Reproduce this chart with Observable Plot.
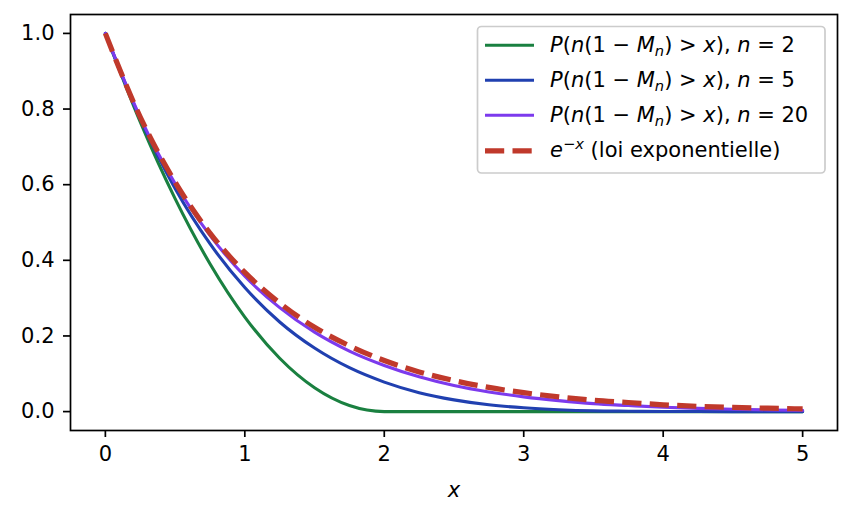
<!DOCTYPE html>
<html>
<head>
<meta charset="utf-8">
<script src="https://cdn.jsdelivr.net/npm/d3@7"></script>
<script src="https://cdn.jsdelivr.net/npm/@observablehq/plot@0.6"></script>
<style>
  html, body { margin: 0; padding: 0; background: white; overflow: hidden; }
  #chart svg { display: block; }
</style>
</head>
<body>
<div id="chart"></div>
<script>
// x sample positions
const xs = [0, 0.25, 0.5, 0.75, 1, 1.25, 1.5, 1.75, 2, 2.25, 2.5, 2.75, 3, 3.25, 3.5, 3.75, 4, 4.25, 4.5, 4.75, 5];
// P(n(1-Mn) > x), n = 2
const n2 = [1, 0.766, 0.563, 0.391, 0.250, 0.141, 0.063, 0.016, 0, 0, 0, 0, 0, 0, 0, 0, 0, 0, 0, 0, 0];
// n = 5
const n5 = [1, 0.774, 0.590, 0.444, 0.328, 0.237, 0.168, 0.116, 0.078, 0.050, 0.031, 0.018, 0.010, 0.005, 0.002, 0.001, 0.0003, 0.0001, 0, 0, 0];
// n = 20
const n20 = [1, 0.778, 0.603, 0.466, 0.358, 0.275, 0.210, 0.160, 0.122, 0.092, 0.069, 0.052, 0.039, 0.029, 0.021, 0.016, 0.0115, 0.0084, 0.0061, 0.0044, 0.0032];
// e^{-x}
const expo = [1, 0.779, 0.607, 0.472, 0.368, 0.287, 0.223, 0.174, 0.135, 0.105, 0.082, 0.064, 0.050, 0.039, 0.030, 0.024, 0.018, 0.014, 0.011, 0.009, 0.007];

const seriesNames = ["n=2", "n=5", "n=20", "exp"];
const seriesColors = ["#1a8040", "#2040b0", "#7c3aed", "#c0392b"];
const xTicks = [0, 1, 2, 3, 4, 5];
const yTicks = [0, 0.2, 0.4, 0.6, 0.8, 1.0];

const seriesValues = [n2, n5, n20, expo];
const tables = seriesValues.map((vals, i) => xs.map((x, j) => ({x, y: vals[j], s: seriesNames[i]})));

const FS = 21;

const svg = Plot.plot({
  width: 851,
  height: 518,
  marginLeft: 70,
  marginRight: 14,
  marginTop: 14,
  marginBottom: 88,
  style: {fontFamily: "DejaVu Sans", fontSize: FS + "px", background: "white", color: "black"},
  x: {domain: [-0.25, 5.25], label: null},
  y: {domain: [-0.05, 1.05], label: null},
  marks: [
    Plot.axisX({ticks: xTicks, tickSize: 7, tickPadding: 9, strokeWidth: 1.7, fontSize: FS, label: null, tickFormat: d => String(d)}),
    Plot.axisY({ticks: yTicks, tickSize: 7, tickPadding: 9, strokeWidth: 1.7, fontSize: FS, label: null, tickFormat: d => d.toFixed(1)}),
    Plot.line(tables[0], {x: "x", y: "y", stroke: seriesColors[0], strokeWidth: 3.1, curve: "monotone-x"}),
    Plot.line(tables[1], {x: "x", y: "y", stroke: seriesColors[1], strokeWidth: 3.1, curve: "monotone-x"}),
    Plot.line(tables[2], {x: "x", y: "y", stroke: seriesColors[2], strokeWidth: 3.1, curve: "monotone-x"}),
    Plot.line(tables[3], {x: "x", y: "y", stroke: seriesColors[3], strokeWidth: 5.2, strokeDasharray: "19.2,8.3", strokeLinecap: "butt", curve: "monotone-x"}),
    Plot.frame({stroke: "black", strokeWidth: 1.7}),
    Plot.text(["x"], {frameAnchor: "bottom", dy: 66, lineAnchor: "bottom", fontStyle: "italic", fontSize: FS})
  ]
});

// force plot text size
d3.select(svg).selectAll("text")
  .style("font-size", FS + "px", "important")
  .style("font-family", "'DejaVu Sans', sans-serif", "important");

// Legend drawn inside the plot area
const g = d3.select(svg).append("g").attr("text-anchor", "start");
g.append("rect")
  .attr("x", 477.5).attr("y", 26.5).attr("width", 347.5).attr("height", 146.5)
  .attr("rx", 4).attr("fill", "white").attr("fill-opacity", 0.8)
  .attr("stroke", "#cccccc").attr("stroke-width", 1.7);

const rowY = [45.3, 80.3, 115.3, 150.8];
const legendNs = ["2", "5", "20"];
const SM = (FS * 0.7).toFixed(2) + "px";
for (let i = 0; i < 4; i++) {
  const line = g.append("line")
    .attr("x1", 485).attr("x2", 534).attr("y1", rowY[i]).attr("y2", rowY[i])
    .attr("stroke", seriesColors[i]);
  if (i === 3) line.attr("stroke-width", 5.2).attr("stroke-dasharray", "19.2,8.3");
  else line.attr("stroke-width", 3.1);

  const t = g.append("text").attr("x", 550).attr("y", rowY[i] + 6.5).attr("text-anchor", "start")
    .style("font-size", FS + "px", "important")
    .style("font-family", "'DejaVu Sans', sans-serif", "important");
  const it = (s) => t.append("tspan").attr("font-style", "italic").text(s);
  const rm = (s) => t.append("tspan").text(s);
  if (i < 3) {
    it("P"); rm("("); it("n"); rm("(1 \u2212 "); it("M");
    t.append("tspan").attr("font-style", "italic").style("font-size", SM, "important").attr("dy", 4.5).text("n");
    t.append("tspan").attr("dy", -4.5).text(") > ");
    it("x"); rm("), "); it("n"); rm(" = " + legendNs[i]);
  } else {
    it("e");
    t.append("tspan").style("font-size", SM, "important").attr("dy", -8).text("\u2212");
    t.append("tspan").style("font-size", SM, "important").attr("font-style", "italic").text("x");
    t.append("tspan").attr("dy", 8).text(" (loi exponentielle)");
  }
}

document.getElementById("chart").appendChild(svg);
</script>
</body>
</html>
